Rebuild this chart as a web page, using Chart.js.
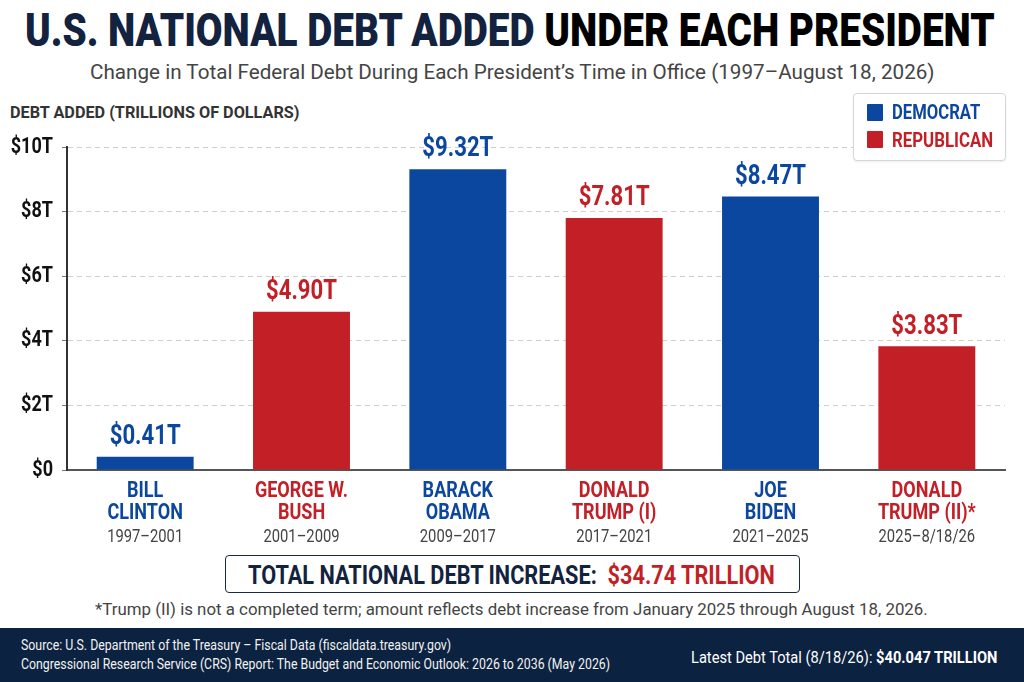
<!DOCTYPE html>
<html>
<head>
<meta charset="utf-8">
<script src="https://cdn.jsdelivr.net/npm/chart.js@4.4.1/dist/chart.umd.min.js"></script>
<style>
  html, body { margin: 0; padding: 0; background: #fff; }
  body { width: 1024px; height: 682px; position: relative; overflow: hidden; font-family: 'Roboto', sans-serif; }
  .abs { position: absolute; }
  .fit { position: absolute; white-space: nowrap; transform-origin: 0 50%; line-height: 1.2; }
  #chartWrap { position: absolute; left: 0; top: 125px; width: 1024px; height: 432px; }
  #legend { left: 853px; top: 93px; width: 151px; height: 66px; border: 1px solid #d6d6d6; border-radius: 4px; background: #fff; box-shadow: 0 1px 2px rgba(0,0,0,0.08); }
  .sw { position: absolute; width: 16px; height: 17px; border-radius: 1px; }
  #totalBox { left: 225px; top: 555px; width: 573px; height: 36px; border: 1.5px solid #1b2a44; border-radius: 4px; background: #fff; }
  #footer { left: 0; top: 628px; width: 1024px; height: 54px; background: #0c2241; }
</style>
</head>
<body>
<div class="fit" data-x="25" data-w="970" data-cy="30" style="font-size:46px;font-weight:900;color:#000;"><span style="color:#13223f">U.S. NATIONAL DEBT ADDED</span> UNDER EACH PRESIDENT</div>
<div class="fit" data-x="90" data-w="845" data-cy="72" style="font-size:21px;color:#444;">Change in Total Federal Debt During Each President’s Time in Office (1997–August 18, 2026)</div>
<div class="fit" data-x="10" data-w="290" data-cy="112" style="font-size:16px;font-weight:bold;color:#333;">DEBT ADDED (TRILLIONS OF DOLLARS)</div>
<div id="chartWrap"><canvas id="c"></canvas></div>
<div id="legend" class="abs"></div>
<div class="sw" style="left:867px;top:104px;background:#0b479e"></div>
<div class="sw" style="left:867px;top:131px;background:#c31f26"></div>
<div class="fit" data-x="892" data-w="88" data-cy="112.5" style="font-size:21px;font-weight:bold;color:#0b479e;">DEMOCRAT</div>
<div class="fit" data-x="892" data-w="101" data-cy="140" style="font-size:21px;font-weight:bold;color:#c31f26;">REPUBLICAN</div>
<div id="totalBox" class="abs"></div>
<div class="fit" data-x="248" data-w="527" data-cy="575" style="font-size:26px;font-weight:bold;color:#13223f;">TOTAL NATIONAL DEBT INCREASE:&nbsp; <span style="color:#c31f26">$34.74 TRILLION</span></div>
<div class="fit" data-x="95" data-w="833" data-cy="609" style="font-size:17px;color:#444;">*Trump (II) is not a completed term; amount reflects debt increase from January 2025 through August 18, 2026.</div>
<div id="footer" class="abs"></div>
<div class="fit" data-x="21" data-w="430" data-cy="645" style="font-size:15px;color:#f2f2f2;">Source: U.S. Department of the Treasury – Fiscal Data (fiscaldata.treasury.gov)</div>
<div class="fit" data-x="21" data-w="589" data-cy="664" style="font-size:15px;color:#f2f2f2;">Congressional Research Service (CRS) Report: The Budget and Economic Outlook: 2026 to 2036 (May 2026)</div>
<div class="fit" data-x="691" data-w="306" data-cy="657" style="font-size:17px;color:#fff;">Latest Debt Total (8/18/26): <b>$40.047 TRILLION</b></div>

<script>
// ---- Data ----
const presidentNames = [
  ['BILL', 'CLINTON'],
  ['GEORGE W.', 'BUSH'],
  ['BARACK', 'OBAMA'],
  ['DONALD', 'TRUMP (I)'],
  ['JOE', 'BIDEN'],
  ['DONALD', 'TRUMP (II)*']
];
const termYears = ['1997–2001', '2001–2009', '2009–2017', '2017–2021', '2021–2025', '2025–8/18/26'];
const debtAdded = [0.41, 4.90, 9.32, 7.81, 8.47, 3.83];
const parties = ['D', 'R', 'D', 'R', 'D', 'R'];
const yTickValues = [0, 2, 4, 6, 8, 10];

const BLUE = '#0b479e', RED = '#c31f26';
const FONT = "'Roboto', sans-serif";
const partyColor = p => (p === 'D' ? BLUE : RED);
const barColors = parties.map(partyColor);

// fit HTML text blocks horizontally (condensed look)
function fitAll() {
  document.querySelectorAll('.fit').forEach(el => {
    const x = +el.dataset.x, w = +el.dataset.w, cy = +el.dataset.cy;
    el.style.transform = 'none';
    el.style.left = x + 'px';
    const nat = el.offsetWidth, h = el.offsetHeight;
    el.style.top = (cy - h / 2) + 'px';
    el.style.transform = 'scaleX(' + (w / nat) + ')';
  });
}
fitAll();

// condensed canvas text: scale horizontally about the anchor point
const canvas = document.getElementById('c');
const ctx2d = canvas.getContext('2d');
const SX = 0.82;
const origFill = ctx2d.fillText;
ctx2d.fillText = function (t, x, y, mw) {
  this.save();
  this.translate(x, y);
  this.scale(SX, 1);
  if (mw === undefined) origFill.call(this, t, 0, 0);
  else origFill.call(this, t, 0, 0, mw / SX);
  this.restore();
};

const valueLabels = {
  id: 'valueLabels',
  afterDatasetsDraw(chart) {
    const ctx = chart.ctx;
    const meta = chart.getDatasetMeta(0);
    ctx.save();
    ctx.font = 'bold 27px ' + FONT;
    ctx.textAlign = 'center';
    ctx.textBaseline = 'bottom';
    meta.data.forEach((bar, i) => {
      ctx.fillStyle = barColors[i];
      ctx.fillText('$' + debtAdded[i].toFixed(2) + 'T', bar.x, bar.y - 6);
    });
    ctx.restore();
  }
};

new Chart(canvas, {
  type: 'bar',
  data: {
    labels: presidentNames,
    datasets: [{
      data: debtAdded,
      backgroundColor: barColors,
      borderWidth: 0,
      barPercentage: 0.62,
      categoryPercentage: 1.0
    }]
  },
  options: {
    responsive: true,
    maintainAspectRatio: false,
    animation: false,
    layout: { padding: { top: 21, right: 19, left: 0, bottom: 0 } },
    plugins: { legend: { display: false }, tooltip: { enabled: false } },
    scales: {
      x: {
        position: 'bottom',
        grid: { display: false, drawTicks: false },
        border: { display: true, color: '#555', width: 2 },
        ticks: {
          autoSkip: false, maxRotation: 0, padding: 10,
          color: ctx => barColors[ctx.index],
          font: { family: FONT, size: 22, weight: 'bold', lineHeight: 1.03 }
        },
        afterFit(s) { s.height = 57; }
      },
      x2: {
        type: 'category',
        labels: termYears,
        position: 'bottom',
        grid: { display: false, drawTicks: false },
        border: { display: false },
        ticks: { autoSkip: false, maxRotation: 0, padding: 0, color: '#444', font: { family: FONT, size: 18 } },
        afterFit(s) { s.height = 30; }
      },
      y: {
        min: 0, max: 10,
        afterBuildTicks(s) { s.ticks = yTickValues.map(v => ({ value: v })); },
        ticks: {
          padding: 9, color: '#111',
          font: { family: FONT, size: 22, weight: 'bold' },
          callback: v => (v === 0 ? '$0' : '$' + v + 'T')
        },
        grid: { color: '#cfcfcf', lineWidth: 1, tickLength: 5, tickColor: '#777', drawTicks: true },
        border: { display: true, color: '#333', width: 2, dash: [5, 4] },
        afterFit(s) { s.width = 67; }
      }
    }
  },
  plugins: [valueLabels]
});
</script>
</body>
</html>
